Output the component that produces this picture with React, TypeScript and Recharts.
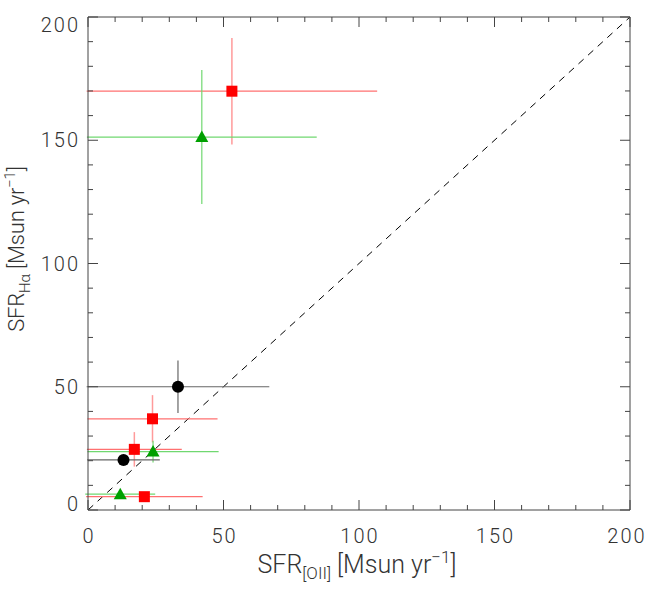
import { ScatterChart, Scatter, XAxis, YAxis, ErrorBar, ReferenceLine, Label } from 'recharts'

// SFR([OII]) vs SFR(Halpha), three samples
const redX = [53.1, 23.8, 17.1, 20.8]
const redY = [169.9, 37.0, 24.6, 5.4]
const redXErr = [53.6, 24.0, 17.5, 21.5]
const redYErr = [21.6, 9.6, 7.0, 1.0]

const greenX = [42.0, 24.0, 11.9]
const greenY = [151.3, 23.7, 6.4]
const greenXErr = [42.4, 24.2, 12.9]
const greenYErr = [27.2, 4.4, 1.5]

const blackX = [33.2, 13.1]
const blackY = [50.0, 20.3]
const blackXErr = [33.7, 13.4]
const blackYErr = [10.6, 2.0]

const ticks = [0, 10, 20, 30, 40, 50, 60, 70, 80, 90, 100, 110, 120, 130, 140, 150, 160, 170, 180, 190, 200]
const oneToOne = [{ x: 0, y: 0 }, { x: 200, y: 200 }]

const build = (xs: number[], ys: number[], xe: number[], ye: number[]) =>
  xs.map((x, i) => ({ x, y: ys[i], xErr: xe[i], yErr: ye[i] }))

const redData = build(redX, redY, redXErr, redYErr)
const greenData = build(greenX, greenY, greenXErr, greenYErr)
const blackData = build(blackX, blackY, blackXErr, blackYErr)

const W = 649
const H = 591
const LEFT = 88
const RIGHT = 630
const TOP = 17
const BOTTOM = 510

const font = 'Roboto, "Liberation Sans", sans-serif'
const textColor = '#333'
const axisColor = '#444'
const MAJOR = 10
const MINOR = 5

const isMajor = (v: number) => v % 50 === 0

const BottomTick = (p: any) => {
  const v = p.payload.value
  const len = isMajor(v) ? MAJOR : MINOR
  // keep the last label inside the window, as the original does
  const lx = Math.min(p.x, RIGHT - 4)
  return (
    <g>
      <line x1={p.x} x2={p.x} y1={BOTTOM} y2={BOTTOM - len} stroke={axisColor} />
      {isMajor(v) && (
        <text x={lx + 1} y={BOTTOM + 33} textAnchor="middle" fontSize={20} letterSpacing={2} fontFamily={font} fontWeight={300} fill={textColor}>
          {v}
        </text>
      )}
    </g>
  )
}

const TopTick = (p: any) => {
  const len = isMajor(p.payload.value) ? MAJOR : MINOR
  return <line x1={p.x} x2={p.x} y1={TOP} y2={TOP + len} stroke={axisColor} />
}

const LeftTick = (p: any) => {
  const v = p.payload.value
  const len = isMajor(v) ? MAJOR : MINOR
  const cy = Math.max(TOP + 8, Math.min(p.y, BOTTOM - 6))
  return (
    <g>
      <line x1={LEFT} x2={LEFT + len} y1={p.y} y2={p.y} stroke={axisColor} />
      {isMajor(v) && (
        <text x={LEFT - 8} y={cy + 7} textAnchor="end" fontSize={20} letterSpacing={2} fontFamily={font} fontWeight={300} fill={textColor}>
          {v}
        </text>
      )}
    </g>
  )
}

const RightTick = (p: any) => {
  const len = isMajor(p.payload.value) ? MAJOR : MINOR
  return <line x1={RIGHT} x2={RIGHT - len} y1={p.y} y2={p.y} stroke={axisColor} />
}

const Square = (p: any) => <rect x={p.cx - 5.5} y={p.cy - 5.5} width={11} height={11} fill="#ff0000" />
const Triangle = (p: any) => (
  <polygon points={`${p.cx},${p.cy - 6.5} ${p.cx - 6.5},${p.cy + 5} ${p.cx + 6.5},${p.cy + 5}`} fill="#00a000" />
)
const Dot = (p: any) => <circle cx={p.cx} cy={p.cy} r={6} fill="#000" />

const XTitle = () => (
  <text x={357} y={573} textAnchor="middle" fontSize={25} fontFamily={font} fontWeight={300} fill={textColor}>
    SFR<tspan fontSize={17} dy={6}>[OII]</tspan>
    <tspan dy={-6}> [Msun yr</tspan>
    <tspan fontSize={17} dy={-10}>−1</tspan>
    <tspan dy={10}>]</tspan>
  </text>
)

const YTitle = () => (
  <text
    x={0}
    y={0}
    transform={`translate(24, 249) rotate(-90)`}
    textAnchor="middle"
    fontSize={22}
    letterSpacing={-0.2}
    fontFamily={font}
    fontWeight={300}
    fill={textColor}
  >
    SFR<tspan fontSize={15} dy={6}>Hα</tspan>
    <tspan dy={-6}> [Msun yr</tspan>
    <tspan fontSize={15} dy={-9}>−1</tspan>
    <tspan dy={9}>]</tspan>
  </text>
)

export default function App() {
  return (
    <div style={{ position: 'absolute', left: 0, top: 0, width: W, height: H, background: '#fff' }}>
      <ScatterChart width={W} height={H} margin={{ top: 0, right: 0, bottom: 0, left: 0 }}>
        <XAxis
          xAxisId="b"
          type="number"
          dataKey="x"
          domain={[0, 200]}
          ticks={ticks}
          interval={0}
          allowDataOverflow
          height={H - BOTTOM}
          tickLine={false}
          tick={BottomTick}
          stroke={axisColor}
        >
          <Label content={XTitle} />
        </XAxis>
        <XAxis
          xAxisId="t"
          orientation="top"
          type="number"
          dataKey="x"
          domain={[0, 200]}
          ticks={ticks}
          interval={0}
          allowDataOverflow
          height={TOP}
          tickLine={false}
          tick={TopTick}
          stroke={axisColor}
        />
        <YAxis
          yAxisId="l"
          type="number"
          dataKey="y"
          domain={[0, 200]}
          ticks={ticks}
          interval={0}
          allowDataOverflow
          width={LEFT}
          tickLine={false}
          tick={LeftTick}
          stroke={axisColor}
        >
          <Label content={YTitle} />
        </YAxis>
        <YAxis
          yAxisId="r"
          orientation="right"
          type="number"
          dataKey="y"
          domain={[0, 200]}
          ticks={ticks}
          interval={0}
          allowDataOverflow
          width={W - RIGHT}
          tickLine={false}
          tick={RightTick}
          stroke={axisColor}
        />
        <ReferenceLine
          xAxisId="b"
          yAxisId="l"
          segment={oneToOne}
          stroke="#000"
          strokeDasharray="7 6"
        />
        <Scatter xAxisId="b" yAxisId="l" data={redData} shape={Square} isAnimationActive={false}>
          <ErrorBar dataKey="xErr" direction="x" width={0} stroke="#ff7070" strokeWidth={1.2} />
          <ErrorBar dataKey="yErr" direction="y" width={0} stroke="#ff9a9a" strokeWidth={1.5} />
        </Scatter>
        <Scatter xAxisId="b" yAxisId="l" data={greenData} shape={Triangle} isAnimationActive={false}>
          <ErrorBar dataKey="xErr" direction="x" width={0} stroke="#70d870" strokeWidth={1.2} />
          <ErrorBar dataKey="yErr" direction="y" width={0} stroke="#70d870" strokeWidth={1.2} />
        </Scatter>
        <Scatter xAxisId="b" yAxisId="l" data={blackData} shape={Dot} isAnimationActive={false}>
          <ErrorBar dataKey="xErr" direction="x" width={0} stroke="#666" strokeWidth={1.2} />
          <ErrorBar dataKey="yErr" direction="y" width={0} stroke="#666" strokeWidth={1.2} />
        </Scatter>
      </ScatterChart>
    </div>
  )
}
